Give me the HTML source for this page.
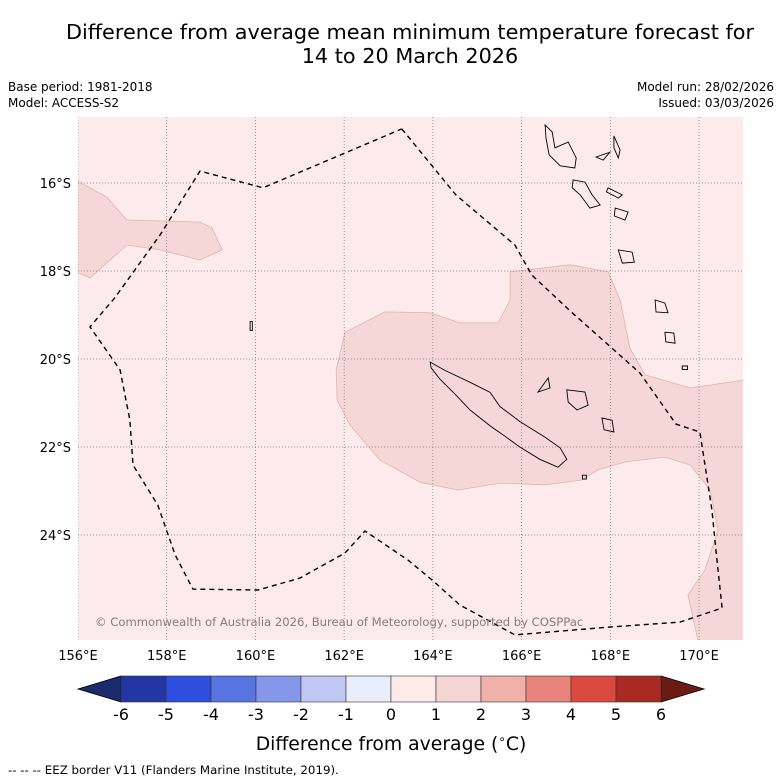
<!DOCTYPE html>
<html><head><meta charset="utf-8"><style>
body{margin:0;background:#fff;font-family:"DejaVu Sans","Liberation Sans",sans-serif}
svg{display:block}
</style></head><body>
<svg id="chart" width="781" height="781" viewBox="0 0 781 781">
<text x="410" y="39" text-anchor="middle" font-size="20.8">Difference from average mean minimum temperature forecast for</text>
<text x="410" y="63" text-anchor="middle" font-size="20.8">14 to 20 March 2026</text>
<text x="8" y="91" font-size="12">Base period: 1981-2018</text>
<text x="8" y="107" font-size="12">Model: ACCESS-S2</text>
<text x="774" y="91" font-size="12" text-anchor="end">Model run: 28/02/2026</text>
<text x="774" y="107" font-size="12" text-anchor="end">Issued: 03/03/2026</text>
<defs><clipPath id="mapclip"><rect x="78" y="117" width="665" height="523"/></clipPath></defs>
<g id="map" clip-path="url(#mapclip)"></g>
<g id="axes"></g>
<g id="cbar"></g>
<text x="391" y="750" text-anchor="middle" font-size="18.8">Difference from average (<tspan font-size="12" dy="-7">∘</tspan><tspan dy="7">C)</tspan></text>
<text x="8" y="774" font-size="11.8">--  --  -- EEZ border V11 (Flanders Marine Institute, 2019).</text>
</svg>
<script>
const lonTicks=[156,158,160,162,164,166,168,170];
const latTicks=[-16,-18,-20,-22,-24];
const cbLevels=[-6,-5,-4,-3,-2,-1,0,1,2,3,4,5,6];
const cbColors=["#2336a6","#2e4ede","#5874e2","#8497ea","#c0c8f3","#e9ecfb","#fdebe9","#f6d5d5","#efb1aa","#e8847c","#dc4a3f","#a92a22"];
const eez=[[163.30,-14.77],[164.52,-16.27],[165.85,-17.41],[166.23,-18.09],[167.14,-18.95],[168.67,-20.32],[169.48,-21.48],[170.02,-21.66],[170.29,-23.43],[170.38,-24.34],[170.52,-25.66],[169.57,-25.98],[167.99,-26.09],[165.85,-26.27],[164.61,-25.59],[163.98,-25.02],[163.44,-24.57],[162.47,-23.91],[162.02,-24.41],[161.00,-24.98],[160.06,-25.25],[158.59,-25.23],[158.19,-24.45],[157.80,-23.32],[157.24,-22.41],[157.17,-21.39],[156.95,-20.25],[156.27,-19.27],[156.83,-18.61],[157.85,-17.18],[158.75,-15.73],[160.17,-16.11],[163.30,-14.77]];
const anomalyMain=[[162.02,-19.39],[162.92,-18.93],[163.94,-18.95],[164.61,-19.18],[165.47,-19.18],[165.74,-18.66],[165.74,-18.02],[167.09,-17.86],[167.95,-18.02],[168.22,-18.66],[168.44,-19.75],[168.78,-20.36],[169.80,-20.66],[171.2,-20.45],[171.2,-26.6],[170.02,-26.6],[169.75,-25.36],[170.13,-24.80],[170.43,-23.89],[170.25,-22.98],[169.80,-22.41],[169.23,-22.23],[168.33,-22.34],[167.72,-22.52],[167.36,-22.75],[166.53,-22.86],[165.51,-22.82],[164.57,-22.98],[163.71,-22.80],[162.81,-22.30],[162.13,-21.50],[161.84,-20.93],[161.82,-20.25]];
const anomalyWest=[[155.8,-15.85],[156.65,-16.32],[157.10,-16.84],[158.75,-16.89],[159.02,-17.02],[159.25,-17.52],[158.75,-17.75],[157.85,-17.52],[157.10,-17.41],[156.27,-18.16],[155.8,-17.95]];
const islands=[
[[163.94,-20.07],[164.27,-20.26],[164.84,-20.53],[165.29,-20.76],[165.51,-21.08],[165.96,-21.42],[166.53,-21.78],[166.87,-22.02],[167.02,-22.28],[166.82,-22.46],[166.41,-22.28],[165.96,-22.00],[165.63,-21.76],[165.29,-21.52],[164.84,-21.16],[164.50,-20.80],[164.16,-20.46],[163.96,-20.20]],
[[166.53,-14.68],[166.69,-14.84],[166.75,-15.20],[167.05,-15.07],[167.23,-15.43],[167.20,-15.66],[166.87,-15.61],[166.62,-15.36],[166.55,-14.98]],
[[167.16,-15.93],[167.43,-15.98],[167.59,-16.27],[167.77,-16.50],[167.54,-16.57],[167.32,-16.27],[167.14,-16.11]],
[[168.08,-14.93],[168.22,-15.25],[168.18,-15.43],[168.08,-15.20]],
[[167.95,-16.11],[168.27,-16.27],[168.18,-16.34],[167.91,-16.20]],
[[168.11,-16.57],[168.40,-16.66],[168.33,-16.84],[168.09,-16.75]],
[[167.68,-15.41],[167.99,-15.30],[167.84,-15.48]],
[[168.18,-17.52],[168.49,-17.57],[168.54,-17.80],[168.27,-17.82]],
[[169.01,-18.66],[169.23,-18.73],[169.30,-18.95],[169.03,-18.93]],
[[169.23,-19.39],[169.43,-19.41],[169.46,-19.64],[169.25,-19.61]],
[[167.02,-20.70],[167.43,-20.75],[167.50,-21.05],[167.25,-21.16],[167.05,-20.98]],
[[167.81,-21.34],[168.04,-21.39],[168.08,-21.66],[167.86,-21.61]],
[[166.60,-20.43],[166.64,-20.66],[166.37,-20.75]],
[[169.62,-20.16],[169.74,-20.16],[169.74,-20.24],[169.62,-20.24]],
[[167.37,-22.64],[167.46,-22.64],[167.46,-22.73],[167.37,-22.73]],
[[159.88,-19.15],[159.93,-19.15],[159.93,-19.35],[159.88,-19.35]]
];
const NS='http://www.w3.org/2000/svg';
const x0=78,pxLon=44.36,y16=183,pxLat=44;
function xs(lon){return x0+(lon-156)*pxLon;}
function ys(lat){return y16+(-16-lat)*pxLat;}
function pts(a){return a.map(p=>xs(p[0]).toFixed(1)+','+ys(p[1]).toFixed(1)).join(' ');}
function mk(tag,attrs,parent){const e=document.createElementNS(NS,tag);for(const k in attrs)e.setAttribute(k,attrs[k]);parent.appendChild(e);return e;}
const map=document.getElementById('map'),axes=document.getElementById('axes'),cb=document.getElementById('cbar');
let bg=mk('rect',{x:78,y:117,width:665,height:523,fill:'#fcebea'},map);


let r1=mk('polygon',{points:pts(anomalyMain),fill:'#f6d7d7',stroke:'#e0b4b4','stroke-width':0.8},map);


let r2=mk('polygon',{points:pts(anomalyWest),fill:'#f6d7d7',stroke:'#e0b4b4','stroke-width':0.8},map);


lonTicks.forEach(l=>{
  let g=mk('line',{x1:xs(l),x2:xs(l),y1:117,y2:640,stroke:'#777','stroke-width':0.7,'stroke-dasharray':'1,2'},map);
  
  
  let t=mk('text',{x:xs(l),y:660,'text-anchor':'middle','font-size':13},axes);
  t.textContent=l+'°E';
  
  
});
latTicks.forEach(l=>{
  let g=mk('line',{x1:78,x2:743,y1:ys(l),y2:ys(l),stroke:'#777','stroke-width':0.7,'stroke-dasharray':'1,2'},map);
  
  
  let t=mk('text',{x:71,y:ys(l)+5,'text-anchor':'end','font-size':13},axes);
  t.textContent=(-l)+'°S';
  
  
});
islands.forEach(isl=>{
  let p=mk('polygon',{points:pts(isl),fill:'none',stroke:'#000','stroke-width':0.9},map);
  
  
});
let e=mk('polyline',{points:pts(eez),fill:'none',stroke:'#000','stroke-width':1.4,'stroke-dasharray':'5,4'},map);


let cr=mk('text',{x:95,y:626,'font-size':11.6,fill:'#8a7a7a'},map);
cr.textContent='© Commonwealth of Australia 2026, Bureau of Meteorology, supported by COSPPac';


const cbx0=121,cbW=45,cy=676,ch=26;
function cx(v){return cbx0+(v-cbLevels[0])*cbW;}
let lt=mk('polygon',{points:`${cx(-6)},${cy} 78,${cy+ch/2} ${cx(-6)},${cy+ch}`,fill:'#1a2a6e',stroke:'#000','stroke-width':0.8},cb);


let ht=mk('polygon',{points:`${cx(6)},${cy} 704,${cy+ch/2} ${cx(6)},${cy+ch}`,fill:'#6b1a14',stroke:'#000','stroke-width':0.8},cb);


cbColors.forEach((c,i)=>{
  let r=mk('rect',{x:cx(cbLevels[i]),y:cy,width:cx(cbLevels[i+1])-cx(cbLevels[i]),height:ch,fill:c,stroke:'#333','stroke-width':0.6},cb);
  
  
});
cbLevels.forEach(v=>{
  let t=mk('text',{x:cx(v),y:720,'text-anchor':'middle','font-size':16},cb);
  t.textContent=v;
  
  
});
</script>
</body></html>
